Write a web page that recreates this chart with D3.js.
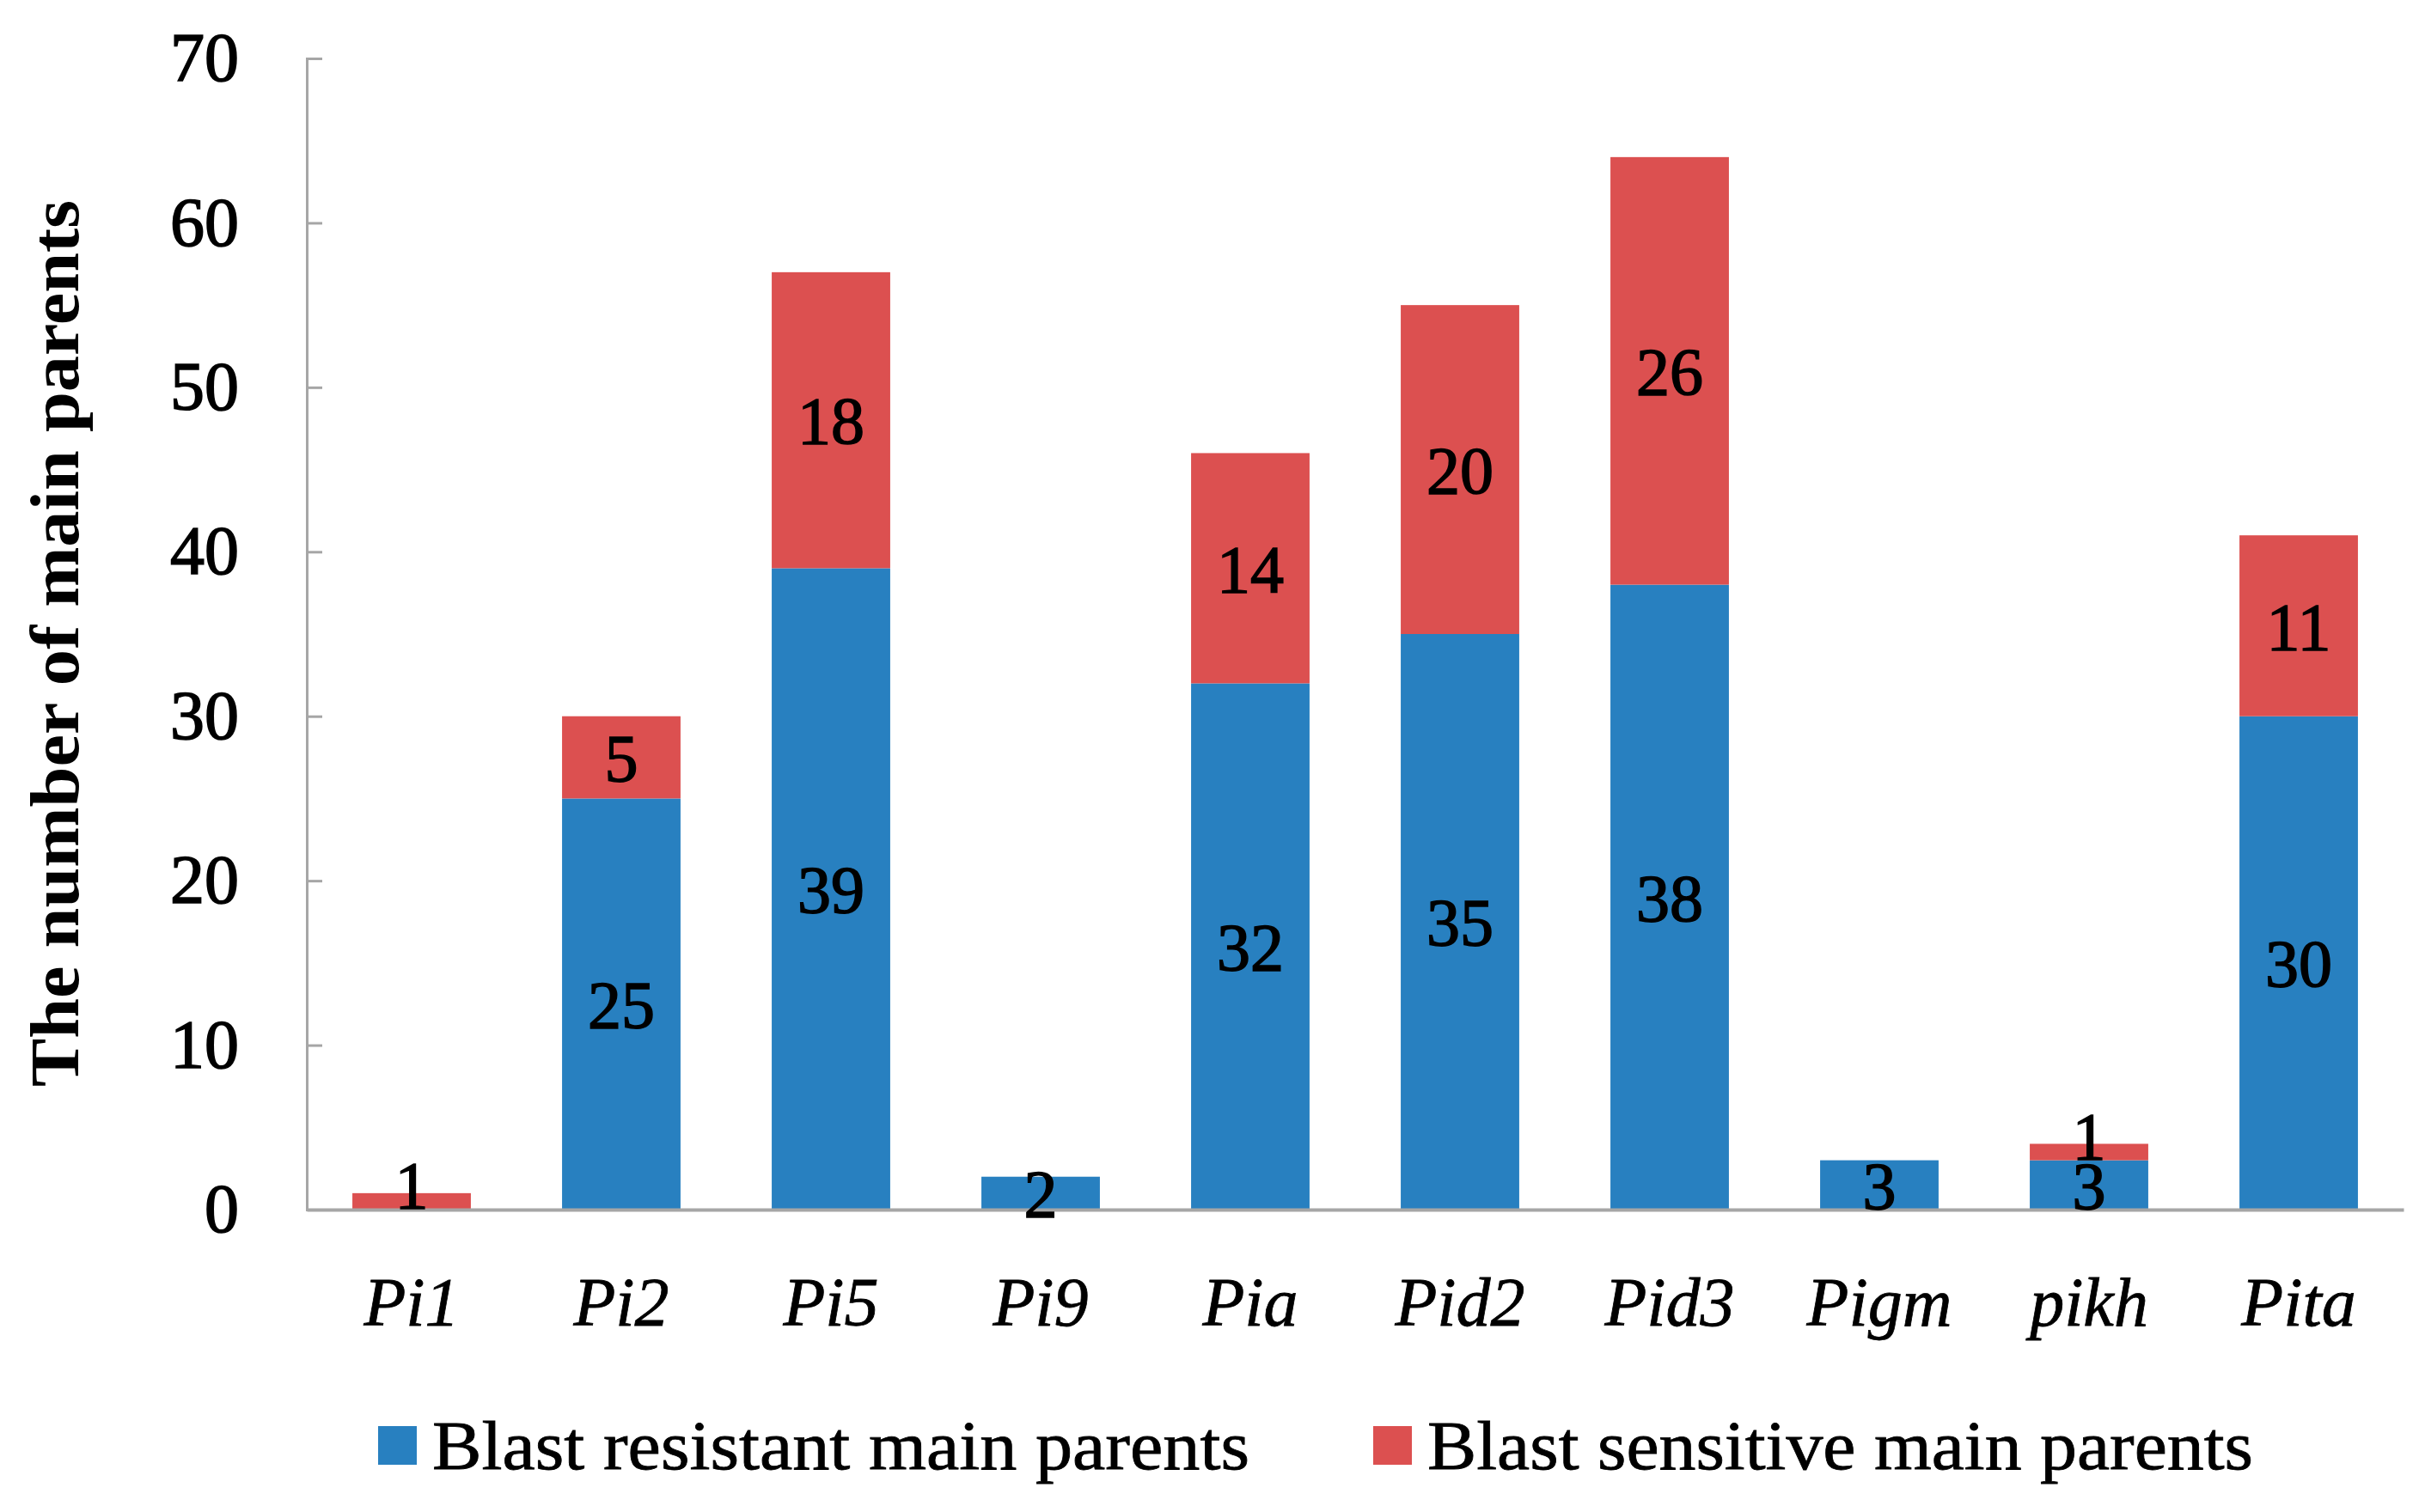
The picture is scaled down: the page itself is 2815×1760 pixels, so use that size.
<!DOCTYPE html>
<html>
<head>
<meta charset="utf-8">
<script src="https://cdn.jsdelivr.net/npm/d3@7"></script>
<style>
  body { margin: 0; background: #fff; }
  svg { display: block; }
</style>
</head>
<body>
<svg></svg>
<script>
const categories = ["Pi1", "Pi2", "Pi5", "Pi9", "Pia", "Pid2", "Pid3", "Pigm", "pikh", "Pita"];
const resistant = [0, 25, 39, 2, 32, 35, 38, 3, 3, 30];
const sensitive = [1, 5, 18, 0, 14, 20, 26, 0, 1, 11];
const seriesNames = ["Blast resistant main parents", "Blast sensitive main parents"];
const yTicks = [0, 10, 20, 30, 40, 50, 60, 70];

const width = 2815;
const height = 1760;
const plotLeft = 357;
const plotRight = 2797;
const plotTop = 68;
const plotBottom = 1408;
const colors = ["#2880c0", "#dc5050"];
const font = "'Liberation Serif', 'Times New Roman', serif";

const rows = categories.map((c, i) => ({ cat: c, resistant: resistant[i], sensitive: sensitive[i] }));
const stack = d3.stack().keys(["resistant", "sensitive"])(rows);

var x = d3
  .scaleBand()
  .domain(categories)
  .range([plotLeft, plotRight])
  .paddingInner(0.435)
  .paddingOuter(0.2175);

var y = d3
  .scaleLinear()
  .domain([0, 70])
  .range([plotBottom, plotTop]);

const svg = d3.select("svg").attr("width", width).attr("height", height);

// bars
svg.selectAll("g.series")
  .data(stack)
  .enter()
  .append("g")
  .attr("class", "series")
  .attr("fill", (d, i) => colors[i])
  .selectAll("rect")
  .data(d => d)
  .enter()
  .append("rect")
  .attr("x", d => x(d.data.cat))
  .attr("width", x.bandwidth())
  .attr("y", d => y(d[1]))
  .attr("height", d => y(d[0]) - y(d[1]));

// y axis
var yAxis = d3.axisLeft(y).tickValues(yTicks).tickSize(-18).tickPadding(79);
const gy = svg.append("g").attr("transform", `translate(${plotLeft},0)`).call(yAxis);
gy.select(".domain").attr("stroke", "#a6a6a6").attr("stroke-width", 3);
gy.selectAll(".tick line").attr("stroke", "#a6a6a6").attr("stroke-width", 3);
gy.selectAll(".tick text")
  .style("font-family", font)
  .style("font-size", "80px")
  .attr("fill", "#000")
  .attr("stroke", "#000")
  .attr("stroke-width", 1.6);

// x axis
var xAxis = d3.axisBottom(x).tickSize(0).tickSizeOuter(0).tickPadding(78);
const gx = svg.append("g").attr("transform", `translate(0,${plotBottom})`).call(xAxis);
gx.select(".domain").attr("stroke", "#a6a6a6").attr("stroke-width", 4);
gx.selectAll(".tick text")
  .style("font-family", font)
  .style("font-size", "80px")
  .style("font-style", "italic")
  .attr("fill", "#000")
  .attr("stroke", "#000")
  .attr("stroke-width", 0.8);

// value labels
svg.append("g")
  .selectAll("g")
  .data(stack)
  .enter()
  .append("g")
  .selectAll("text")
  .data(d => d.filter(s => s[1] - s[0] > 0))
  .enter()
  .append("text")
  .attr("x", d => x(d.data.cat) + x.bandwidth() / 2)
  .attr("y", d => y((d[0] + d[1]) / 2))
  .attr("dy", d => (d[1] - d[0] === 1 ? "0.1em" : "0.35em"))
  .style("text-anchor", "middle")
  .style("font-family", font)
  .style("font-size", "78px")
  .attr("fill", "#000")
  .attr("stroke", "#000")
  .attr("stroke-width", 1.6)
  .text(d => d[1] - d[0]);

// y title
svg.append("text")
  .attr("transform", `translate(63,749) rotate(-90)`)
  .attr("dy", "0.35em")
  .style("text-anchor", "middle")
  .style("font-family", font)
  .style("font-size", "80px")
  .style("font-weight", "bold")
  .attr("textLength", 1032)
  .attr("lengthAdjust", "spacingAndGlyphs")
  .text("The number of main parents");

// legend
const legendX = [440, 1598];
const legendW = [951, 961];
const legend = svg.append("g")
  .selectAll("g")
  .data(seriesNames)
  .enter()
  .append("g")
  .attr("transform", (d, i) => `translate(${legendX[i]},1682)`);
legend.append("rect")
  .attr("x", 0)
  .attr("y", -22)
  .attr("width", 45)
  .attr("height", 45)
  .attr("fill", (d, i) => colors[i]);
legend.append("text")
  .attr("x", 63)
  .attr("dy", "0.35em")
  .style("font-family", font)
  .style("font-size", "80px")
  .attr("stroke", "#000")
  .attr("stroke-width", 0.8)
  .attr("textLength", (d, i) => legendW[i])
  .attr("lengthAdjust", "spacingAndGlyphs")
  .text(d => d);
</script>
</body>
</html>
